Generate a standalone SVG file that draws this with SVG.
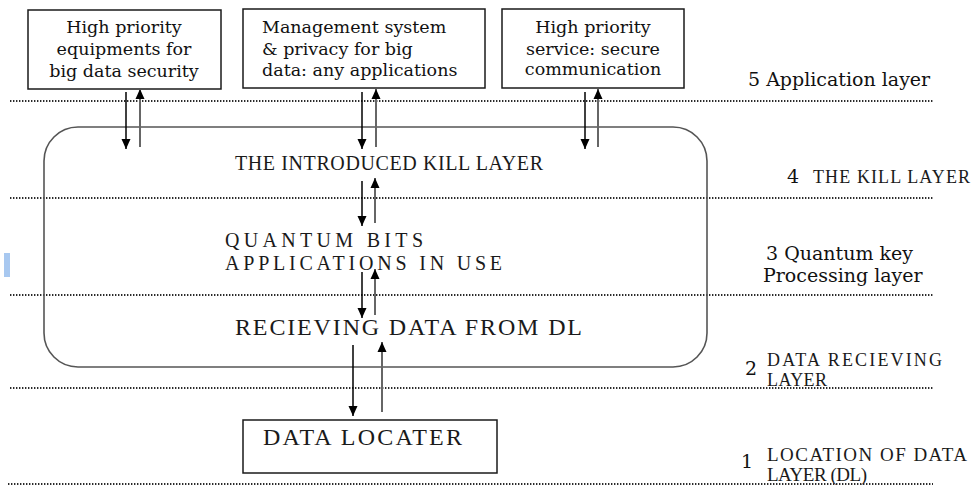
<svg xmlns="http://www.w3.org/2000/svg" width="972" height="486" viewBox="0 0 972 486">
  <style>
    .box { fill: #ffffff; stroke: #1a1a1a; stroke-width: 1.5; }
    .frame { fill: none; stroke: #555555; stroke-width: 1.6; }
    .divider { stroke: #2a2a2a; stroke-width: 1.8; stroke-dasharray: 1.4 1.6; fill: none; }
    .down { stroke: #000000; stroke-width: 1.5; fill: none; }
    .up { stroke: #666666; stroke-width: 2; fill: none; }
    .body { font-family: "DejaVu Serif", "Liberation Serif", serif; font-size: 17.5px; fill: #111111; }
    .label { font-family: "DejaVu Serif", "Liberation Serif", serif; font-size: 19px; fill: #111111; }
    .title { font-family: "Liberation Serif", "DejaVu Serif", serif; fill: #1a1a1a; }
  </style>
  <defs>
    <marker id="head" viewBox="0 0 10 10" refX="10" refY="5" markerWidth="10" markerHeight="10" markerUnits="userSpaceOnUse" orient="auto">
      <path d="M0,0.5 L10,5 L0,9.5 z" fill="#000000"/>
    </marker>
  </defs>

  <!-- layer dividers -->
  <g id="dividers">
    <line class="divider" x1="10" y1="101" x2="933" y2="101"/>
    <line class="divider" x1="10" y1="198" x2="933" y2="198"/>
    <line class="divider" x1="10" y1="295" x2="933" y2="295"/>
    <line class="divider" x1="10" y1="388" x2="933" y2="388"/>
    <line class="divider" x1="8" y1="484" x2="933" y2="484"/>
  </g>

  <!-- selection mark at the left margin -->
  <rect x="4" y="253" width="6" height="24" fill="#a8c8f0"/>

  <!-- processing frame spanning layers 4..2 -->
  <g id="frame">
    <rect class="frame" x="44" y="127" width="663" height="240" rx="34" ry="34"/>
    <text class="title" x="235" y="170" font-size="20" textLength="308" lengthAdjust="spacing">THE INTRODUCED KILL LAYER</text>
  </g>

  <g id="quantum">
    <text class="title" x="225" y="247" font-size="20" textLength="198" lengthAdjust="spacing">QUANTUM BITS</text>
    <text class="title" x="225" y="270" font-size="20" textLength="277" lengthAdjust="spacing">APPLICATIONS IN USE</text>
  </g>

  <g id="receiving">
    <text class="title" x="235" y="335" font-size="24" textLength="347" lengthAdjust="spacing">RECIEVING DATA FROM DL</text>
  </g>

  <!-- application boxes -->
  <g id="app-equipments">
    <rect class="box" x="28" y="10" width="193" height="79"/>
    <text class="body" text-anchor="middle" x="124" y="33">High priority</text>
    <text class="body" text-anchor="middle" x="124" y="55">equipments for</text>
    <text class="body" text-anchor="middle" x="124" y="77">big data security</text>
  </g>

  <g id="app-management">
    <rect class="box" x="243" y="9" width="242" height="79"/>
    <text class="body" x="262" y="33">Management system</text>
    <text class="body" x="262" y="55">&amp; privacy for big</text>
    <text class="body" x="262" y="76">data: any applications</text>
  </g>

  <g id="app-service">
    <rect class="box" x="502" y="9" width="182" height="79"/>
    <text class="body" text-anchor="middle" x="593" y="33">High priority</text>
    <text class="body" text-anchor="middle" x="593" y="55">service: secure</text>
    <text class="body" text-anchor="middle" x="593" y="75">communication</text>
  </g>

  <g id="data-locater">
    <rect class="box" x="243" y="420" width="254" height="53"/>
    <text class="title" x="263" y="445" font-size="24" textLength="199" lengthAdjust="spacing">DATA LOCATER</text>
  </g>

  <!-- layer names -->
  <g id="layer-5">
    <text class="label" x="748" y="86">5 Application layer</text>
  </g>
  <g id="layer-4">
    <text class="label" x="787" y="183" font-size="18">4</text>
    <text class="title" x="813" y="183" font-size="18" textLength="157" lengthAdjust="spacing">THE KILL LAYER</text>
  </g>
  <g id="layer-3">
    <text class="label" x="766" y="260">3 Quantum key</text>
    <text class="label" x="763" y="282">Processing layer</text>
  </g>
  <g id="layer-2">
    <text class="label" x="745" y="375">2</text>
    <text class="title" x="767" y="366" font-size="18" textLength="175" lengthAdjust="spacing">DATA RECIEVING</text>
    <text class="title" x="767" y="386" font-size="18" textLength="60" lengthAdjust="spacing">LAYER</text>
  </g>
  <g id="layer-1">
    <text class="label" x="741" y="468">1</text>
    <text class="title" x="767" y="461" font-size="19" textLength="200" lengthAdjust="spacing">LOCATION OF DATA</text>
    <text class="title" x="767" y="481" font-size="19" textLength="100" lengthAdjust="spacing">LAYER (DL)</text>
  </g>

  <!-- connectors: down = request, up = response -->
  <g id="connectors">
    <line class="down" x1="126" y1="92" x2="126" y2="149" marker-end="url(#head)"/>
    <line class="up" x1="140" y1="147" x2="140" y2="89" marker-end="url(#head)"/>
    <line class="down" x1="362" y1="92" x2="362" y2="149" marker-end="url(#head)"/>
    <line class="up" x1="376" y1="147" x2="376" y2="89" marker-end="url(#head)"/>
    <line class="down" x1="585" y1="92" x2="585" y2="149" marker-end="url(#head)"/>
    <line class="up" x1="598" y1="147" x2="598" y2="89" marker-end="url(#head)"/>

    <line class="down" x1="362" y1="181" x2="362" y2="226" marker-end="url(#head)"/>
    <line class="up" x1="375" y1="223" x2="375" y2="178" marker-end="url(#head)"/>

    <line class="down" x1="362" y1="272" x2="362" y2="318" marker-end="url(#head)"/>
    <line class="up" x1="375" y1="315" x2="375" y2="269" marker-end="url(#head)"/>

    <line class="down" x1="353" y1="345" x2="353" y2="416" marker-end="url(#head)"/>
    <line class="up" x1="382" y1="412" x2="382" y2="342" marker-end="url(#head)"/>
  </g>
</svg>
